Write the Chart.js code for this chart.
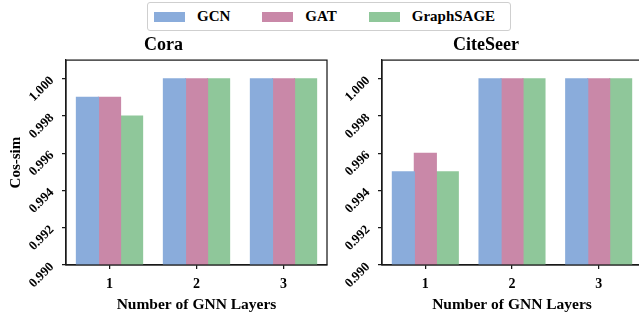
<!DOCTYPE html>
<html>
<head>
<meta charset="utf-8">
<script src="https://cdn.jsdelivr.net/npm/chart.js@4"></script>
<style>
  html, body { margin: 0; padding: 0; background: #fff; overflow: hidden; }
  body { width: 639px; height: 316px; position: relative; font-family: "Liberation Serif", serif; }
  #legend {
    position: absolute; left: 147px; top: 2px; width: 356px; height: 27px;
    border: 1px solid #cfcfcf; border-radius: 3px;
    display: flex; align-items: center; padding-left: 6px; box-sizing: content-box;
  }
  .item { display: flex; align-items: center; margin-right: 32px; font-weight: bold; font-size: 15px; color: #000; }
  .sw { width: 31px; height: 10px; margin-right: 12px; }
  canvas { position: absolute; top: 0; }
</style>
</head>
<body>
<div id="legend"></div>
<canvas id="cora" width="330" height="316" style="left:0"></canvas>
<canvas id="citeseer" width="320" height="316" style="left:330px"></canvas>
<script>
const layers = ['1', '2', '3'];
const seriesNames = ['GCN', 'GAT', 'GraphSAGE'];
const seriesColors = ['#8aacdb', '#c988a8', '#8fc79a'];

const coraGCN = [0.999, 1.000, 1.000];
const coraGAT = [0.999, 1.000, 1.000];
const coraSAGE = [0.998, 1.000, 1.000];

const citeGCN = [0.995, 1.000, 1.000];
const citeGAT = [0.996, 1.000, 1.000];
const citeSAGE = [0.995, 1.000, 1.000];

const yTicks = [0.990, 0.992, 0.994, 0.996, 0.998, 1.000];

const FONT = 'Liberation Serif';
const INK = '#1a1a1a';

// legend shared by both panels
const legend = document.getElementById('legend');
seriesNames.forEach((name, i) => {
    const it = document.createElement('div');
    it.className = 'item';
    it.innerHTML = '<span class="sw" style="background:' + seriesColors[i] + '"></span>' + name;
    legend.appendChild(it);
});

// box around the plot area, like matplotlib spines
const frame = {
    id: 'frame',
    afterDraw(chart) {
        const {ctx, chartArea: a} = chart;
        ctx.save();
        ctx.strokeStyle = INK;
        ctx.lineWidth = 1.25;
        ctx.strokeRect(a.left, a.top, a.right - a.left, a.bottom - a.top);
        ctx.restore();
    }
};

function makeChart(id, title, data, yWidth, showYTitle, padRight) {
    return new Chart(document.getElementById(id), {
        type: 'bar',
        data: {
            labels: layers,
            datasets: data.map((d, i) => ({
                label: seriesNames[i],
                data: d,
                backgroundColor: seriesColors[i],
                borderWidth: 0,
                inflateAmount: 0.6,
                categoryPercentage: 0.76,
                barPercentage: 1.0
            }))
        },
        options: {
            responsive: false,
            animation: false,
            layout: { padding: { top: 0, left: 0, right: padRight, bottom: 0 } },
            plugins: {
                legend: { display: false },
                tooltip: { enabled: false },
                title: {
                    display: true,
                    text: title,
                    color: '#000',
                    font: { family: FONT, size: 18, weight: 'bold' },
                    padding: { top: 35, bottom: 3.5 }
                }
            },
            scales: {
                x: {
                    grid: { offset: false, drawOnChartArea: false, tickLength: 4, color: INK, lineWidth: 1.25 },
                    border: { display: true, color: INK, width: 1.25 },
                    ticks: { color: '#000', padding: 7, font: { family: FONT, size: 14, weight: 'bold' } },
                    title: {
                        display: true, text: 'Number of GNN Layers', color: '#000',
                        font: { family: FONT, size: 15.5, weight: 'bold' },
                        padding: { top: -4.4, bottom: 2 }
                    }
                },
                y: {
                    min: 0.990,
                    max: 1.001,
                    afterBuildTicks: s => { s.ticks = yTicks.map(v => ({ value: v })); },
                    afterFit: s => { s.width = yWidth; },
                    grid: { drawOnChartArea: false, tickLength: 4, color: INK, lineWidth: 1.25 },
                    border: { display: true, color: INK, width: 1.25 },
                    ticks: {
                        color: '#000', padding: 10, minRotation: 45, maxRotation: 45,
                        font: { family: FONT, size: 13, weight: 'bold' },
                        callback: v => v.toFixed(3)
                    },
                    title: {
                        display: showYTitle, text: 'Cos-sim', color: '#000',
                        font: { family: FONT, size: 15, weight: 'bold' },
                        padding: { top: 7, bottom: 0 }
                    }
                }
            }
        },
        plugins: [frame]
    });
}

makeChart('cora', 'Cora', [coraGCN, coraGAT, coraSAGE], 66, true, 3);
makeChart('citeseer', 'CiteSeer', [citeGCN, citeGAT, citeSAGE], 52, false, 8);
</script>
</body>
</html>
